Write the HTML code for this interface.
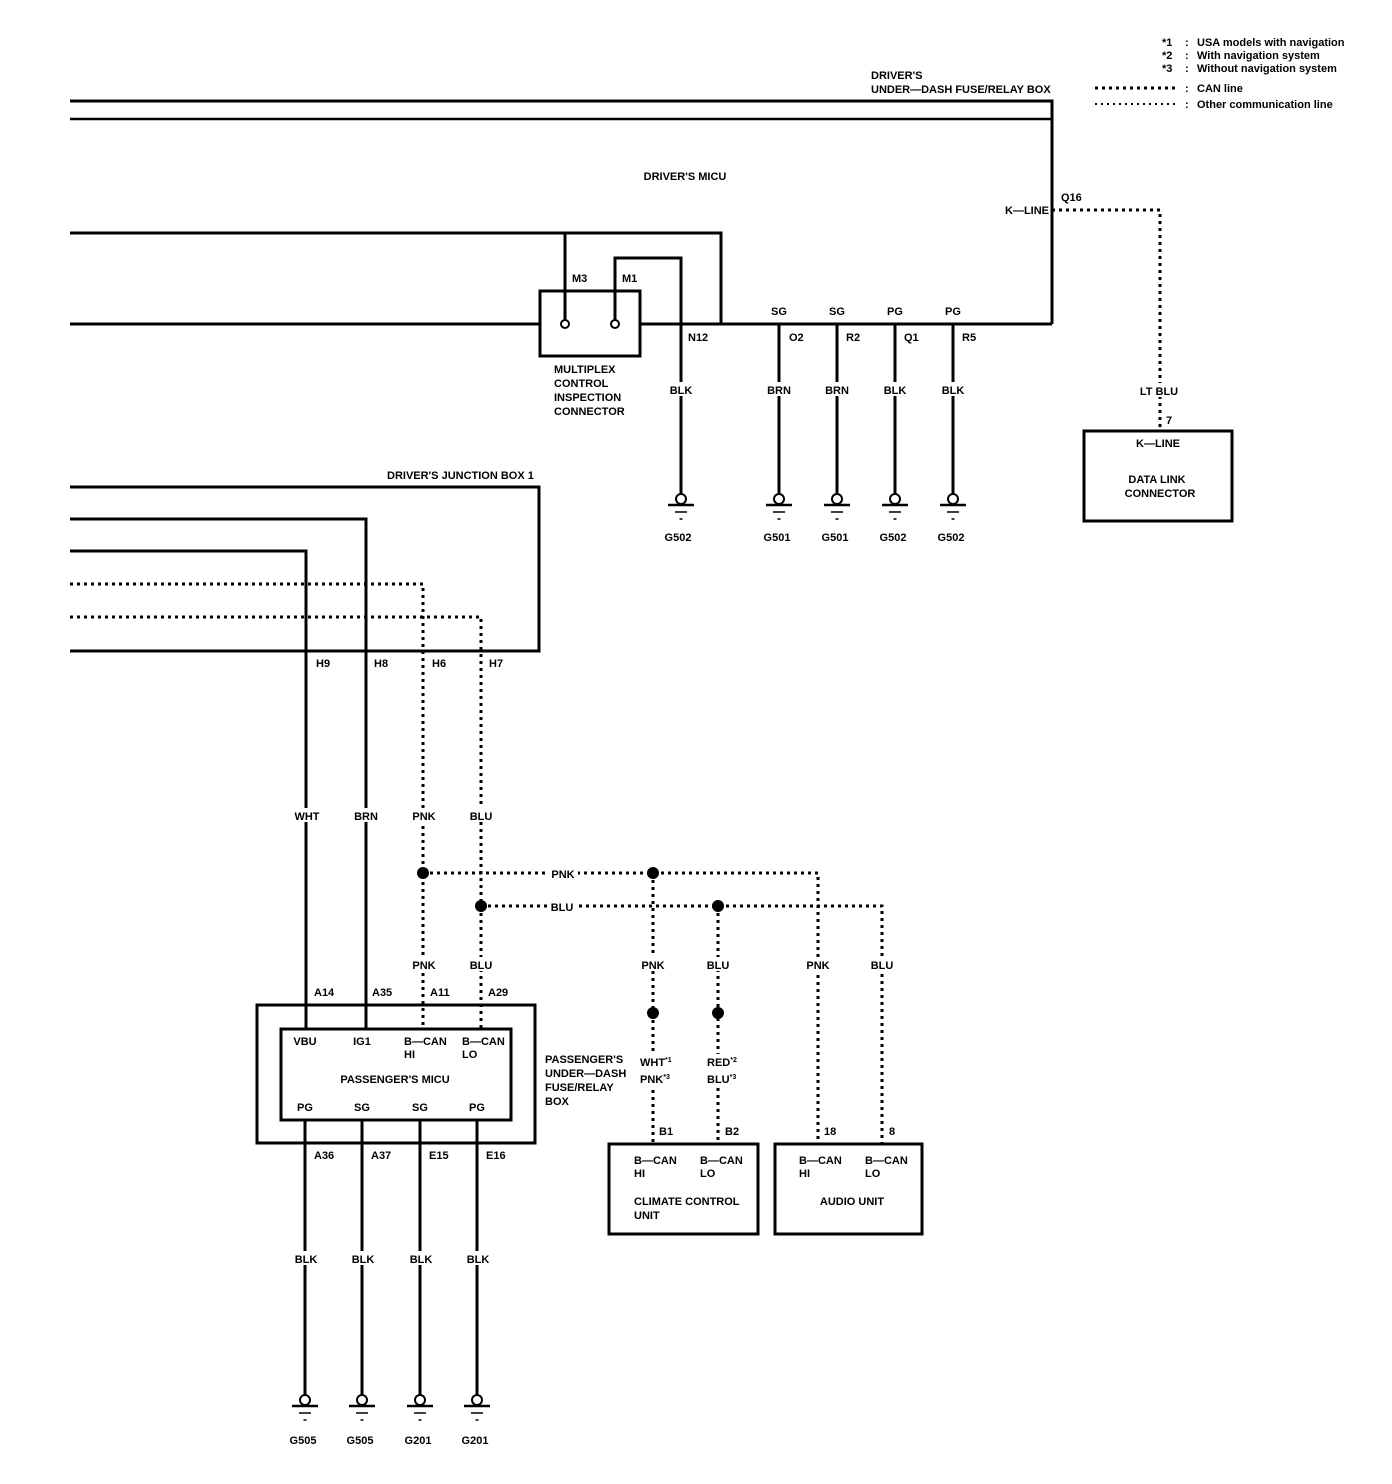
<!DOCTYPE html>
<html><head><meta charset="utf-8"><style>
html,body{margin:0;padding:0;background:#fff}
svg{display:block}
text{font-family:"Liberation Sans Narrow","Liberation Sans",sans-serif;font-weight:bold;font-size:11px;fill:#000}
.m{text-anchor:middle}
</style></head><body>
<svg width="1392" height="1484" viewBox="0 0 1392 1484" xmlns="http://www.w3.org/2000/svg">
<defs>
<g id="gnd">
<circle cx="0" cy="0" r="5" fill="#fff" stroke="#000" stroke-width="2"/>
<line x1="-13" y1="6" x2="13" y2="6" stroke="#000" stroke-width="2.5"/>
<line x1="-6" y1="13" x2="6" y2="13" stroke="#000" stroke-width="1.5"/>
<line x1="-1.5" y1="20" x2="1.5" y2="20" stroke="#000" stroke-width="1.5"/>
</g>
</defs>
<g stroke="#000" fill="none" stroke-width="3">
<!-- top driver fuse box -->
<polyline points="70,101 1052,101 1052,324"/>
<line x1="70" y1="119" x2="1052" y2="119" stroke-width="2.5"/>
<polyline points="70,233 721,233 721,324"/>
<line x1="70" y1="324" x2="540" y2="324"/>
<line x1="640" y1="324" x2="1052" y2="324"/>
<rect x="540" y="291" width="100" height="65"/>
<line x1="565" y1="233" x2="565" y2="320"/>
<polyline points="615,320 615,258 681,258 681,497"/>
<line x1="779" y1="324" x2="779" y2="497"/>
<line x1="837" y1="324" x2="837" y2="497"/>
<line x1="895" y1="324" x2="895" y2="497"/>
<line x1="953" y1="324" x2="953" y2="497"/>
<rect x="1084" y="431" width="148" height="90"/>
<!-- junction box -->
<polyline points="70,487 539,487 539,651 70,651"/>
<polyline points="70,519 366,519 366,1029"/>
<polyline points="70,551 306,551 306,1029"/>
<!-- passenger box -->
<rect x="257" y="1005" width="278" height="138"/>
<rect x="281" y="1029" width="230" height="91"/>
<line x1="305" y1="1120" x2="305" y2="1396"/>
<line x1="362" y1="1120" x2="362" y2="1396"/>
<line x1="420" y1="1120" x2="420" y2="1396"/>
<line x1="477" y1="1120" x2="477" y2="1396"/>
<rect x="609" y="1144" width="149" height="90"/>
<rect x="775" y="1144" width="147" height="90"/>
</g>
<g stroke="#000" fill="none" stroke-width="3" stroke-dasharray="3,4">
<polyline points="1052,210 1160,210 1160,431"/>
<polyline points="70,584 423,584 423,1029"/>
<polyline points="70,617 481,617 481,1029"/>
<polyline points="423,873 818,873 818,1144"/>
<polyline points="481,906 882,906 882,1144"/>
<line x1="653" y1="873" x2="653" y2="1144"/>
<line x1="718" y1="906" x2="718" y2="1144"/>
<line x1="1095" y1="88" x2="1178" y2="88"/>
</g>
<line x1="1095" y1="104" x2="1178" y2="104" stroke="#000" stroke-width="2" stroke-dasharray="2,4"/>
<g fill="#000">
<circle cx="423" cy="873" r="6"/><circle cx="653" cy="873" r="6"/>
<circle cx="481" cy="906" r="6"/><circle cx="718" cy="906" r="6"/>
<circle cx="653" cy="1013" r="6"/><circle cx="718" cy="1013" r="6"/>
</g>
<g fill="#fff" stroke="#000" stroke-width="2">
<circle cx="565" cy="324" r="4"/><circle cx="615" cy="324" r="4"/>
</g>
<!-- label backgrounds on wires -->
<g fill="#fff">
<rect x="668" y="382" width="26" height="14"/>
<rect x="766" y="382" width="26" height="14"/><rect x="824" y="382" width="26" height="14"/>
<rect x="882" y="382" width="26" height="14"/><rect x="940" y="382" width="26" height="14"/>
<rect x="292" y="808" width="30" height="14"/><rect x="352" y="808" width="28" height="14"/>
<rect x="410" y="808" width="28" height="14"/><rect x="468" y="808" width="28" height="14"/>
<rect x="410" y="957" width="28" height="14"/><rect x="468" y="957" width="28" height="14"/>
<rect x="639" y="957" width="28" height="14"/><rect x="704" y="957" width="28" height="14"/>
<rect x="804" y="957" width="28" height="14"/><rect x="868" y="957" width="28" height="14"/>
<rect x="548" y="866" width="30" height="14"/><rect x="548" y="899" width="30" height="14"/>
<rect x="634" y="1054" width="36" height="32"/><rect x="700" y="1054" width="38" height="32"/>
<rect x="292" y="1251" width="28" height="14"/><rect x="349" y="1251" width="28" height="14"/>
<rect x="407" y="1251" width="28" height="14"/><rect x="464" y="1251" width="28" height="14"/>
<rect x="1144" y="383" width="32" height="14"/>
<rect x="1000" y="203" width="50" height="14"/>
</g>
<use href="#gnd" x="681" y="499"/><use href="#gnd" x="779" y="499"/><use href="#gnd" x="837" y="499"/>
<use href="#gnd" x="895" y="499"/><use href="#gnd" x="953" y="499"/>
<use href="#gnd" x="305" y="1400"/><use href="#gnd" x="362" y="1400"/><use href="#gnd" x="420" y="1400"/><use href="#gnd" x="477" y="1400"/>
<!-- legend -->
<text x="1162" y="46">*1</text><text x="1185" y="46">:</text><text x="1197" y="46">USA models with navigation</text>
<text x="1162" y="59">*2</text><text x="1185" y="59">:</text><text x="1197" y="59">With navigation system</text>
<text x="1162" y="72">*3</text><text x="1185" y="72">:</text><text x="1197" y="72">Without navigation system</text>
<text x="1185" y="92">:</text><text x="1197" y="92">CAN line</text>
<text x="1185" y="108">:</text><text x="1197" y="108">Other communication line</text>
<text x="871" y="79">DRIVER'S</text>
<text x="871" y="93">UNDER—DASH FUSE/RELAY BOX</text>
<text class="m" x="685" y="180">DRIVER'S MICU</text>
<text x="1005" y="214">K—LINE</text>
<text x="1061" y="201">Q16</text>
<text x="572" y="282">M3</text><text x="622" y="282">M1</text>
<text x="688" y="341">N12</text>
<text class="m" x="779" y="315">SG</text><text class="m" x="837" y="315">SG</text>
<text class="m" x="895" y="315">PG</text><text class="m" x="953" y="315">PG</text>
<text x="789" y="341">O2</text><text x="846" y="341">R2</text><text x="904" y="341">Q1</text><text x="962" y="341">R5</text>
<text x="554" y="373">MULTIPLEX</text><text x="554" y="387">CONTROL</text>
<text x="554" y="401">INSPECTION</text><text x="554" y="415">CONNECTOR</text>
<text class="m" x="681" y="394">BLK</text><text class="m" x="779" y="394">BRN</text>
<text class="m" x="837" y="394">BRN</text><text class="m" x="895" y="394">BLK</text><text class="m" x="953" y="394">BLK</text>
<text class="m" x="678" y="541">G502</text><text class="m" x="777" y="541">G501</text>
<text class="m" x="835" y="541">G501</text><text class="m" x="893" y="541">G502</text><text class="m" x="951" y="541">G502</text>
<text class="m" x="1159" y="395">LT BLU</text>
<text x="1166" y="424">7</text>
<text class="m" x="1158" y="447">K—LINE</text>
<text class="m" x="1157" y="483">DATA LINK</text>
<text class="m" x="1160" y="497">CONNECTOR</text>
<text x="387" y="479">DRIVER'S JUNCTION BOX 1</text>
<text x="316" y="667">H9</text><text x="374" y="667">H8</text><text x="432" y="667">H6</text><text x="489" y="667">H7</text>
<text class="m" x="307" y="820">WHT</text><text class="m" x="366" y="820">BRN</text>
<text class="m" x="424" y="820">PNK</text><text class="m" x="481" y="820">BLU</text>
<text class="m" x="563" y="878">PNK</text><text class="m" x="562" y="911">BLU</text>
<text class="m" x="424" y="969">PNK</text><text class="m" x="481" y="969">BLU</text>
<text class="m" x="653" y="969">PNK</text><text class="m" x="718" y="969">BLU</text>
<text class="m" x="818" y="969">PNK</text><text class="m" x="882" y="969">BLU</text>
<text x="314" y="996">A14</text><text x="372" y="996">A35</text><text x="430" y="996">A11</text><text x="488" y="996">A29</text>
<text class="m" x="305" y="1045">VBU</text><text class="m" x="362" y="1045">IG1</text>
<text x="404" y="1045">B—CAN</text><text x="404" y="1058">HI</text>
<text x="462" y="1045">B—CAN</text><text x="462" y="1058">LO</text>
<text class="m" x="395" y="1083">PASSENGER'S MICU</text>
<text class="m" x="305" y="1111">PG</text><text class="m" x="362" y="1111">SG</text>
<text class="m" x="420" y="1111">SG</text><text class="m" x="477" y="1111">PG</text>
<text x="545" y="1063">PASSENGER'S</text><text x="545" y="1077">UNDER—DASH</text>
<text x="545" y="1091">FUSE/RELAY</text><text x="545" y="1105">BOX</text>
<text x="640" y="1066">WHT<tspan font-size="7" dy="-4">*1</tspan></text>
<text x="640" y="1083">PNK<tspan font-size="7" dy="-4">*3</tspan></text>
<text x="707" y="1066">RED<tspan font-size="7" dy="-4">*2</tspan></text>
<text x="707" y="1083">BLU<tspan font-size="7" dy="-4">*3</tspan></text>
<text x="659" y="1135">B1</text><text x="725" y="1135">B2</text>
<text x="824" y="1135">18</text><text x="889" y="1135">8</text>
<text x="314" y="1159">A36</text><text x="371" y="1159">A37</text><text x="429" y="1159">E15</text><text x="486" y="1159">E16</text>
<text x="634" y="1164">B—CAN</text><text x="634" y="1177">HI</text>
<text x="700" y="1164">B—CAN</text><text x="700" y="1177">LO</text>
<text x="634" y="1205">CLIMATE CONTROL</text><text x="634" y="1219">UNIT</text>
<text x="799" y="1164">B—CAN</text><text x="799" y="1177">HI</text>
<text x="865" y="1164">B—CAN</text><text x="865" y="1177">LO</text>
<text class="m" x="852" y="1205">AUDIO UNIT</text>
<text class="m" x="306" y="1263">BLK</text><text class="m" x="363" y="1263">BLK</text>
<text class="m" x="421" y="1263">BLK</text><text class="m" x="478" y="1263">BLK</text>
<text class="m" x="303" y="1444">G505</text><text class="m" x="360" y="1444">G505</text>
<text class="m" x="418" y="1444">G201</text><text class="m" x="475" y="1444">G201</text>
</svg>
</body></html>
